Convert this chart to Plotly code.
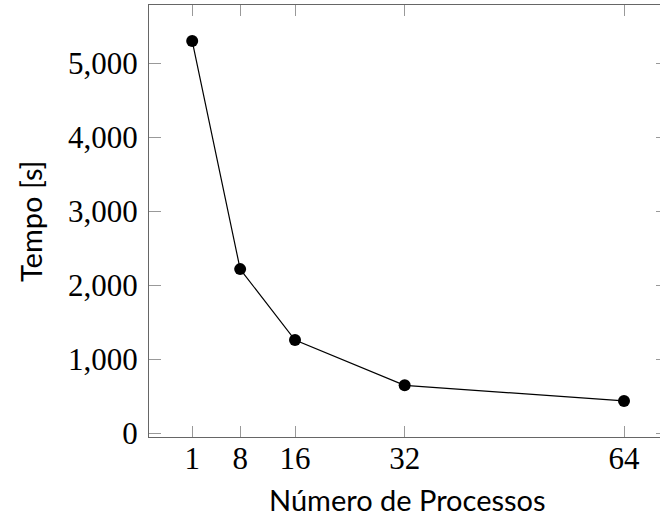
import plotly.graph_objects as go

processos = [1, 8, 16, 32, 64]
tempo = [5300, 2220, 1262, 652, 441]
x_ticks = [1, 8, 16, 32, 64]
y_ticks = [0, 1000, 2000, 3000, 4000, 5000]
y_labels = ["0", "1,000", "2,000", "3,000", "4,000", "5,000"]
x_title = "Número de Processos"
y_title = "Tempo [s]"

serif = "Liberation Serif"
sans = "Lato"

fig = go.Figure()
fig.add_trace(go.Scatter(
    x=processos, y=tempo, mode="lines+markers",
    line=dict(color="black", width=1.2),
    marker=dict(color="black", size=12),
    showlegend=False,
))
# invisible trace on right axis to show mirrored ticks
fig.add_trace(go.Scatter(x=processos, y=tempo, yaxis="y2", mode="markers",
                         marker=dict(opacity=0), showlegend=False, hoverinfo="skip"))

fig.update_layout(
    width=660, height=517,
    margin=dict(l=149, r=0, t=5, b=80, autoexpand=False),
    plot_bgcolor="white", paper_bgcolor="white",
    xaxis=dict(
        range=[-5.3, 69.25], automargin=False,
        tickvals=x_ticks, ticktext=[str(v) for v in x_ticks],
        ticks="inside", ticklen=11, tickwidth=1, tickcolor="#999",
        showline=True, linecolor="#666", linewidth=1.3, mirror="ticks",
        showgrid=False, zeroline=False,
        tickfont=dict(family=serif, size=31, color="black"),
        ticklabelstandoff=-6,
    ),
    yaxis=dict(
        range=[-46, 5785], automargin=False,
        tickvals=y_ticks, ticktext=y_labels,
        ticks="inside", ticklen=12, tickwidth=1, tickcolor="#999",
        showline=True, linecolor="#666", linewidth=1.3, mirror=False,
        showgrid=False, zeroline=False,
        tickfont=dict(family=serif, size=31, color="black"),
        ticklabelstandoff=4,
    ),
    yaxis2=dict(
        overlaying="y", side="right", matches="y", automargin=False,
        tickvals=y_ticks, showticklabels=False,
        ticks="inside", ticklen=4, tickwidth=1, tickcolor="#999",
        showline=False, showgrid=False, zeroline=False,
    ),
    annotations=[
        dict(text=x_title, xref="paper", yref="paper", x=0.5068, y=-0.1458,
             xanchor="center", yanchor="middle", showarrow=False,
             font=dict(family=sans, size=29, color="black")),
        dict(text=y_title, xref="paper", yref="paper", x=-0.2329, y=0.5,
             xanchor="center", yanchor="middle", textangle=-90, showarrow=False,
             font=dict(family=sans, size=29, color="black")),
    ],
)

fig.write_html(
    "out.html",
    config={"displayModeBar": False},
    post_script="document.body.style.margin='0';document.body.style.overflow='hidden';",
)
